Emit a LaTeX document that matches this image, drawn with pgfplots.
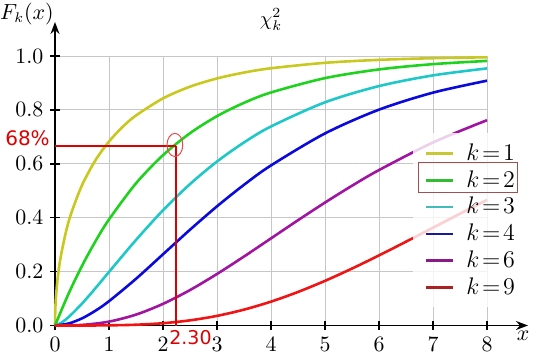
\documentclass[border=0pt]{standalone}
\usepackage{pgfplots}
\pgfplotsset{compat=1.18}
\usepackage{fontspec}
\newfontfamily\dejavu{DejaVu Sans}
\usetikzlibrary{arrows.meta,calc}
\definecolor{c1}{HTML}{C8C81E}
\definecolor{c2}{HTML}{1ED21E}
\definecolor{c3}{HTML}{1EC8C8}
\definecolor{c4}{HTML}{0A0ADC}
\definecolor{c6}{HTML}{A014A0}
\definecolor{c9}{HTML}{F01414}
\definecolor{l1}{HTML}{C8C832}
\definecolor{l2}{HTML}{33BB33}
\definecolor{l3}{HTML}{44BBBB}
\definecolor{l4}{HTML}{1A1A99}
\definecolor{l6}{HTML}{8A1A8A}
\definecolor{l9}{HTML}{AA2222}
\definecolor{annot}{HTML}{DD0000}
\begin{document}
\begin{tikzpicture}
\begin{axis}[
  x=27pt, y=134.75pt,
  xmin=0, xmax=8, ymin=0, ymax=1,
  axis lines=left,
  axis line style={line width=0.8pt, -{Stealth[length=6pt,width=4.5pt]}},
  x axis line style={shorten >=-20.5pt},
  y axis line style={shorten >=-17pt},
  xtick={0,1,...,8},
  ytick={0,0.2,0.4,0.6,0.8,1.0},
  yticklabel style={/pgf/number format/.cd, fixed, fixed zerofill, precision=1},
  tick label style={font=\fontsize{11}{13}\selectfont},
  grid=major,
  grid style={black!22, line width=0.45pt},
  tick align=center,
  major tick length=4.5pt,
  tick style={black, line width=0.7pt},
  clip=false,
  legend style={at={(axis cs:6.63,0.714)}, anchor=north west,
    fill=white, fill opacity=0.8, text opacity=1, draw=none,
    font=\fontsize{11.5}{13}\selectfont, row sep=-0.4pt,
    inner xsep=3pt, inner ysep=3pt},
  legend cell align=left,
  legend image code/.code={\path[draw=none, fill=none] (0pt,0pt) -- (21.5pt,0pt); \draw[#1, line width=1.4pt] (3.5pt,0pt) -- (17pt,0pt);},
]
\addplot[c1, line width=1.3pt, smooth, forget plot] coordinates {
(0,0) (0.005,0.0564) (0.01,0.0797) (0.02,0.1125) (0.05,0.1769) (0.1,0.2482)
(0.2,0.3453) (0.3,0.4161) (0.5,0.5205) (0.75,0.6135) (1,0.6827) (1.25,0.7364)
(1.5,0.7793) (2,0.8427) (2.5,0.8862) (3,0.9167) (3.5,0.9386) (4,0.9545)
(5,0.9747) (6,0.9857) (7,0.9918) (8,0.9953)};
\addplot[c2, line width=1.3pt, smooth, forget plot] coordinates {
(0,0) (0.25,0.1175) (0.5,0.2212) (0.75,0.3127) (1,0.3935) (1.5,0.5276) (2,0.6321)
(2.5,0.7135) (3,0.7769) (3.5,0.8262) (4,0.8647) (5,0.9179) (6,0.9502) (7,0.9698) (8,0.9817)};
\addplot[c3, line width=1.3pt, smooth, forget plot] coordinates {
(0,0) (0.1,0.0082) (0.25,0.0309) (0.5,0.0811) (0.75,0.1386) (1,0.1987) (1.5,0.3174)
(2,0.4276) (2.5,0.5247) (3,0.6084) (3.5,0.6792) (4,0.7385) (5,0.8282) (6,0.8884)
(7,0.9281) (8,0.9540)};
\addplot[c4, line width=1.3pt, smooth, forget plot] coordinates {
(0,0) (0.25,0.0072) (0.5,0.0265) (0.75,0.0550) (1,0.0902) (1.5,0.1733) (2,0.2642)
(2.5,0.3554) (3,0.4422) (3.5,0.5221) (4,0.5940) (5,0.7127) (6,0.8009) (7,0.8641) (8,0.9084)};
\addplot[c6, line width=1.3pt, smooth, forget plot] coordinates {
(0,0) (0.5,0.0022) (1,0.0144) (1.5,0.0404) (2,0.0803) (2.5,0.1315) (3,0.1912)
(3.5,0.2560) (4,0.3233) (4.5,0.3907) (5,0.4562) (5.5,0.5186) (6,0.5768) (7,0.6792) (8,0.7619)};
\addplot[c9, line width=1.3pt, smooth, forget plot] coordinates {
(0,0) (0.5,0.00003) (1,0.0006) (1.5,0.0029) (2,0.0085) (2.5,0.0191) (3,0.0357)
(3.5,0.0589) (4,0.0886) (4.5,0.1245) (5,0.1657) (5.5,0.2113) (6,0.2601) (6.5,0.3110)
(7,0.3629) (7.5,0.4148) (8,0.4658)};
% annotation
\addplot[annot, line width=1pt, forget plot] coordinates {(0,0.665) (2.24,0.665)};
\addplot[annot, line width=1pt, forget plot] coordinates {(2.24,0) (2.24,0.665)};
\addplot[annot!70, only marks, mark=o, mark size=5.8pt, mark options={xscale=0.68, line width=0.5pt}, forget plot] coordinates {(2.22,0.67)};
% legend entries
\addlegendimage{l1}\addlegendentry{$k\!=\!1$}
\addlegendimage{l2}\addlegendentry{$k\!=\!2$}
\addlegendimage{l3}\addlegendentry{$k\!=\!3$}
\addlegendimage{l4}\addlegendentry{$k\!=\!4$}
\addlegendimage{l6}\addlegendentry{$k\!=\!6$}
\addlegendimage{l9}\addlegendentry{$k\!=\!9$}
% labels
\node[font=\fontsize{10.5}{12}\selectfont] at (axis cs:-0.52,1.156) {$F_k(x)$};
\node[font=\fontsize{11}{13}\selectfont] at (axis cs:8.67,-0.04) {$x$};
\node[font=\fontsize{10}{12}\selectfont] at (axis cs:4.0,1.134) {$\chi^2_k$};
\node[annot, anchor=east, inner sep=0pt, font=\dejavu\fontsize{10}{12}\selectfont] at (axis cs:-0.09,0.696) {68\%};
\node[annot, anchor=west, inner sep=0pt, font=\dejavu\fontsize{9.5}{12}\selectfont] at (axis cs:2.11,-0.043) {2.30};
\coordinate (O) at (axis cs:0,0);
\coordinate (b1) at (axis cs:6.74,0.603);
\coordinate (b2) at (axis cs:8.556,0.495);
\end{axis}
\draw[draw={rgb,255:red,160;green,80;blue,80}, line width=0.5pt] (b1) rectangle (b2);
\pgfresetboundingbox
\useasboundingbox ($(O)+(-27.5pt,-17.25pt)$) rectangle ++(270pt,180pt);
\end{tikzpicture}
\end{document}
